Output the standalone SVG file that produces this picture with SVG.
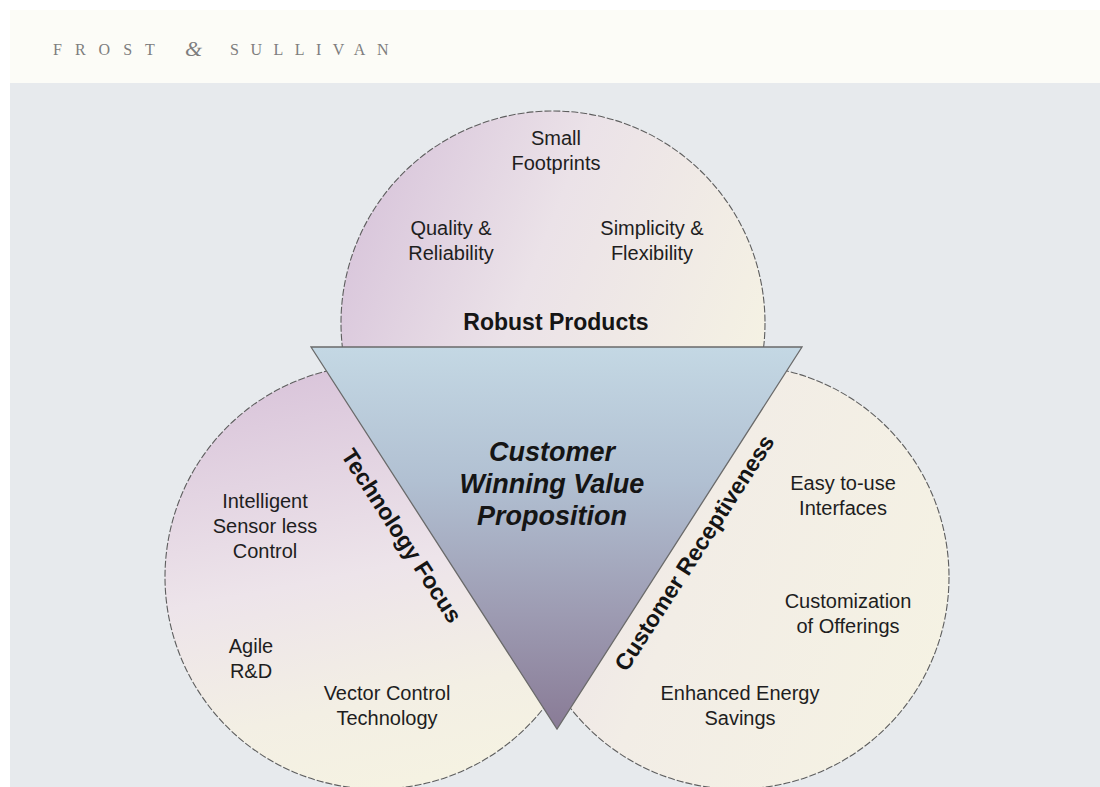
<svg xmlns="http://www.w3.org/2000/svg" width="1100" height="787" viewBox="0 0 1100 787">
<style>
.t{font-family:"Liberation Sans",Arial,sans-serif;font-size:20px;fill:#1e1e1e;text-anchor:middle}
.b{font-family:"Liberation Sans",Arial,sans-serif;font-size:23px;font-weight:bold;fill:#151515;text-anchor:middle}
.c{font-family:"Liberation Sans",Arial,sans-serif;font-size:27px;font-weight:bold;font-style:italic;fill:#151515;text-anchor:middle}
.h{font-family:"Liberation Serif","Times New Roman",serif;font-size:16px;fill:#7e7e7e}
.circ{stroke:#5e5e5e;stroke-width:1.1;stroke-dasharray:7 2}
</style>
<defs>
<linearGradient id="gTop" x1="0" y1="0.2" x2="1" y2="0.6">
<stop offset="0" stop-color="#d7c3da"/>
<stop offset="0.45" stop-color="#ebe2e8"/>
<stop offset="1" stop-color="#f5f2e3"/>
</linearGradient>
<linearGradient id="gLeft" x1="0.3" y1="0" x2="0.5" y2="1">
<stop offset="0" stop-color="#d9c4da"/>
<stop offset="0.5" stop-color="#ede4ea"/>
<stop offset="0.8" stop-color="#f3efe4"/>
<stop offset="1" stop-color="#f5f2e2"/>
</linearGradient>
<linearGradient id="gRight" x1="0" y1="0.3" x2="1" y2="0.7">
<stop offset="0" stop-color="#ebe1e7"/>
<stop offset="0.4" stop-color="#f2ede6"/>
<stop offset="1" stop-color="#f5f2e3"/>
</linearGradient>
<linearGradient id="gTri" x1="0" y1="0" x2="0" y2="1">
<stop offset="0" stop-color="#c4d8e4"/>
<stop offset="0.35" stop-color="#b1c0d2"/>
<stop offset="0.7" stop-color="#9d9bb2"/>
<stop offset="1" stop-color="#897b96"/>
</linearGradient>
</defs>
<rect x="0" y="0" width="1100" height="787" fill="#ffffff"/>
<rect x="10" y="10" width="1090" height="73" fill="#fcfcf7"/>
<rect x="10" y="83" width="1090" height="704" fill="#e7eaed"/>
<g id="header">
<text class="h" x="53" y="55" letter-spacing="13">FROST</text>
<text x="185" y="56" font-family="Liberation Serif,serif" font-size="22" font-style="italic" fill="#7e7e7e">&amp;</text>
<text class="h" x="230" y="55" letter-spacing="11.5">SULLIVAN</text>
</g>
<g id="robust-products">
<circle class="circ" cx="553" cy="323" r="212" fill="url(#gTop)"/>
<text class="t" x="556" y="145">Small</text>
<text class="t" x="556" y="170">Footprints</text>
<text class="t" x="451" y="235">Quality &amp;</text>
<text class="t" x="451" y="260">Reliability</text>
<text class="t" x="652" y="235">Simplicity &amp;</text>
<text class="t" x="652" y="260">Flexibility</text>
<text class="b" x="556" y="330" font-size="24">Robust Products</text>
</g>
<g id="technology-focus">
<circle class="circ" cx="377" cy="577" r="212" fill="url(#gLeft)"/>
<text class="t" x="265" y="508">Intelligent</text>
<text class="t" x="265" y="533">Sensor less</text>
<text class="t" x="265" y="558">Control</text>
<text class="t" x="251" y="653">Agile</text>
<text class="t" x="251" y="678">R&amp;D</text>
<text class="t" x="387" y="700">Vector Control</text>
<text class="t" x="387" y="725">Technology</text>
</g>
<g id="customer-receptiveness">
<circle class="circ" cx="737" cy="577" r="212" fill="url(#gRight)"/>
<text class="t" x="843" y="490">Easy to-use</text>
<text class="t" x="843" y="515">Interfaces</text>
<text class="t" x="848" y="608">Customization</text>
<text class="t" x="848" y="633">of Offerings</text>
<text class="t" x="740" y="700">Enhanced Energy</text>
<text class="t" x="740" y="725">Savings</text>
</g>
<g id="value-proposition">
<polygon points="311,347 802,347 557,729" fill="url(#gTri)" stroke="#6a6a6a" stroke-width="1.3" stroke-linejoin="miter"/>
<text class="c" x="552" y="461">Customer</text>
<text class="c" x="552" y="493">Winning Value</text>
<text class="c" x="552" y="525">Proposition</text>
</g>
<g id="edge-labels">
<text class="b" transform="translate(395,540) rotate(57.2)">Technology Focus</text>
<text class="b" transform="translate(701,557) rotate(-57.3)">Customer Receptiveness</text>
</g>
</svg>
